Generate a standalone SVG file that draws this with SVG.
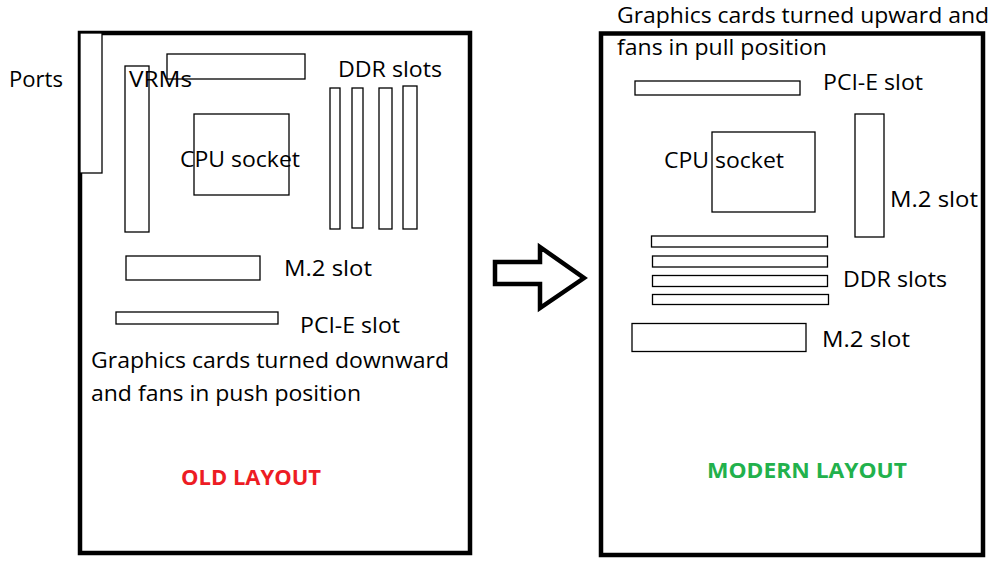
<svg xmlns="http://www.w3.org/2000/svg" width="1002" height="573" viewBox="0 0 1002 573">
<style>
.board{fill:#fff;stroke:#000;stroke-width:4.5}
.part{fill:#fff;stroke:#000;stroke-width:1.3}
.lbl{font-family:"Open Sans","Noto Sans","DejaVu Sans",sans-serif;font-size:22px;fill:#000}
.title{font-family:"Open Sans","Noto Sans","DejaVu Sans",sans-serif;font-size:22px;font-weight:bold}
</style>
<rect width="1002" height="573" fill="#fff"/>
<g id="old-board">
<rect class="board" x="80" y="33" width="390" height="520"/>
</g>
<g id="old-ports">
<rect class="part" x="80" y="33" width="22" height="140"/>
<text class="lbl" x="9" y="87" textLength="54" lengthAdjust="spacingAndGlyphs">Ports</text>
</g>
<g id="old-vrms">
<rect class="part" x="125" y="66" width="24" height="166"/>
<rect class="part" x="167" y="54" width="138" height="25"/>
<text class="lbl" x="129" y="87" textLength="63" lengthAdjust="spacingAndGlyphs">VRMs</text>
</g>
<g id="old-ddr">
<rect class="part" x="330" y="88" width="10" height="141"/>
<rect class="part" x="352" y="88" width="11" height="140"/>
<rect class="part" x="379" y="88" width="13" height="141"/>
<rect class="part" x="403" y="86" width="14" height="143"/>
<text class="lbl" x="338" y="77" textLength="104" lengthAdjust="spacingAndGlyphs">DDR slots</text>
</g>
<g id="old-cpu">
<rect class="part" x="194" y="114" width="95" height="81"/>
<text class="lbl" x="180" y="167" textLength="120" lengthAdjust="spacingAndGlyphs">CPU socket</text>
</g>
<g id="old-m2">
<rect class="part" x="126" y="256" width="134" height="24"/>
<text class="lbl" x="284" y="276" textLength="88" lengthAdjust="spacingAndGlyphs">M.2 slot</text>
</g>
<g id="old-pcie">
<rect class="part" x="116" y="312" width="162" height="12"/>
<text class="lbl" x="300" y="333" textLength="100" lengthAdjust="spacingAndGlyphs">PCI-E slot</text>
</g>
<g id="old-note">
<text class="lbl" x="91" y="368" textLength="358" lengthAdjust="spacingAndGlyphs">Graphics cards turned downward</text>
<text class="lbl" x="91" y="401" textLength="270" lengthAdjust="spacingAndGlyphs">and fans in push position</text>
<text class="title" x="181" y="485" fill="#ED1C24" textLength="140" lengthAdjust="spacingAndGlyphs">OLD LAYOUT</text>
</g>
<g id="connectors">
<polygon points="495,262 540,262 540,247 584,278 540,308 540,284 495,284" fill="#fff" stroke="#000" stroke-width="4.5" stroke-linejoin="miter"/>
</g>
<g id="modern-board">
<rect class="board" x="601" y="33.5" width="382" height="521.5"/>
</g>
<g id="modern-note">
<text class="lbl" x="617" y="23" textLength="372" lengthAdjust="spacingAndGlyphs">Graphics cards turned upward and</text>
<text class="lbl" x="617" y="55" textLength="210" lengthAdjust="spacingAndGlyphs">fans in pull position</text>
</g>
<g id="modern-pcie">
<rect class="part" x="635" y="81" width="165" height="14"/>
<text class="lbl" x="823" y="90" textLength="100" lengthAdjust="spacingAndGlyphs">PCI-E slot</text>
</g>
<g id="modern-cpu">
<rect class="part" x="712" y="132" width="103" height="80"/>
<text class="lbl" x="664" y="168" textLength="120" lengthAdjust="spacingAndGlyphs">CPU socket</text>
</g>
<g id="modern-m2-upper">
<rect class="part" x="855" y="114" width="29" height="123"/>
<text class="lbl" x="890" y="207" textLength="88" lengthAdjust="spacingAndGlyphs">M.2 slot</text>
</g>
<g id="modern-ddr">
<rect class="part" x="651.5" y="236" width="176" height="11"/>
<rect class="part" x="652.5" y="256" width="175" height="11"/>
<rect class="part" x="652.5" y="275.5" width="175" height="11"/>
<rect class="part" x="652.5" y="294.5" width="176" height="10"/>
<text class="lbl" x="843" y="287" textLength="104" lengthAdjust="spacingAndGlyphs">DDR slots</text>
</g>
<g id="modern-m2">
<rect class="part" x="632" y="323.5" width="174" height="28"/>
<text class="lbl" x="822" y="347" textLength="88" lengthAdjust="spacingAndGlyphs">M.2 slot</text>
</g>
<g id="modern-title">
<text class="title" x="707" y="478" fill="#22B14C" textLength="200" lengthAdjust="spacingAndGlyphs">MODERN LAYOUT</text>
</g>
</svg>
